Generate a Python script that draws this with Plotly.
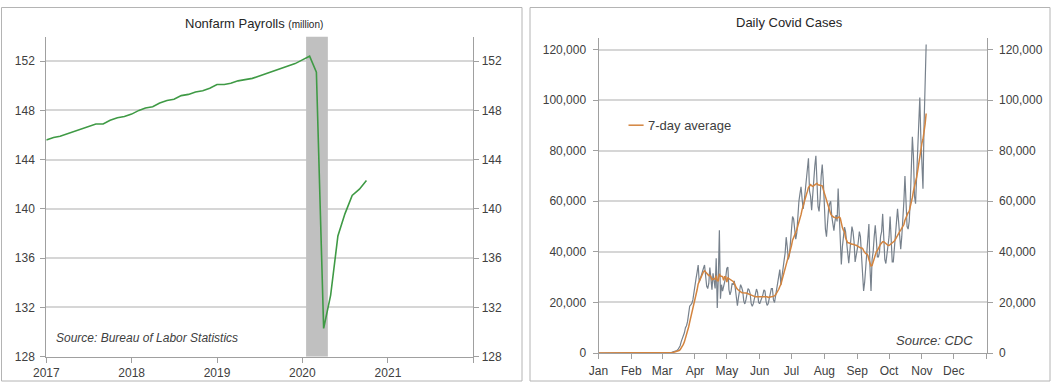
import pandas as pd
import plotly.graph_objects as go

W, H = 1052, 386

# ---------------- Data ----------------
# Nonfarm payrolls, millions, monthly Jan 2017 - Oct 2020
payrolls = [
    145.6, 145.8, 145.9, 146.1, 146.3, 146.5, 146.7, 146.9, 146.9, 147.2, 147.4, 147.5,
    147.7, 148.0, 148.2, 148.3, 148.6, 148.8, 148.9, 149.2, 149.3, 149.5, 149.6, 149.8,
    150.1, 150.1, 150.2, 150.4, 150.5, 150.6, 150.8, 151.0, 151.2, 151.4, 151.6, 151.8,
    152.1, 152.4, 151.1, 130.3, 133.0, 137.8, 139.6, 141.1, 141.6, 142.3,
]
payroll_start = "2017-01-01"
recession = ("2020-01-17", "2020-04-19")
payroll_ticks = ["2017", "2018", "2019", "2020", "2021", ""]

# Daily covid cases (thousands), Jan 1 - Nov 5 2020 (rows Mon-Sun after first partial week)
cases_k = [
    0, 0, 0, 0, 0,
    0, 0, 0, 0, 0, 0, 0,
    0, 0, 0, 0, 0, 0, 0,
    0, 0, 0, 0, 0, 0, 0,
    0, 0, 0, 0, 0, 0, 0,
    0, 0, 0, 0, 0, 0, 0,
    0, 0, 0, 0, 0, 0, 0,
    0, 0, 0, 0, 0, 0, 0,
    0, 0, 0, 0, 0, 0, 0,
    0.0, 0.0, 0.0, 0.1, 0.1, 0.1, 0.1,
    0.2, 0.3, 0.4, 0.5, 0.6, 0.8, 1.0,
    1.4, 2.0, 2.9, 4.5, 5.5, 6.6, 8.0,
    10.0, 10.8, 12.5, 16.5, 18.5, 19.0, 19.6,
    21.0, 24.5, 26.5, 29.5, 32.0, 34.8, 28.0,
    29.5, 31.5, 33.0, 33.5, 34.8, 30.5, 26.5,
    25.5, 27.5, 33.8, 30.5, 25.0, 31.5, 27.5,
    25.5, 37.5, 17.8, 30.0, 48.5, 21.5, 27.0,
    24.5, 26.0, 28.5, 30.0, 33.5, 34.0, 25.0,
    23.0, 24.5, 27.5, 27.0, 28.5, 25.5, 21.0,
    18.7, 22.0, 24.0, 27.0, 26.0, 24.5, 20.5,
    19.4, 21.0, 23.0, 25.5, 25.0, 23.5, 19.5,
    18.5, 19.5, 21.5, 24.0, 25.3, 24.0, 20.0,
    19.5, 20.5, 21.5, 23.0, 25.0, 24.5, 20.5,
    18.8, 19.5, 21.5, 24.0, 25.5, 25.5, 21.0,
    20.0, 22.5, 26.5, 28.0, 31.5, 33.0, 27.0,
    31.0, 34.0, 36.5, 39.5, 45.8, 42.0, 37.0,
    38.5, 43.5, 50.6, 54.0, 53.0, 47.0, 45.0,
    47.5, 55.0, 60.0, 63.0, 65.7, 61.0, 57.0,
    60.0, 65.0, 68.0, 72.0, 77.0, 64.0, 62.0,
    56.5, 63.0, 70.0, 74.0, 78.0, 68.0, 58.0,
    56.0, 61.0, 70.0, 74.5, 68.0, 56.0, 49.0,
    46.0, 53.0, 57.0, 59.0, 60.0, 54.0, 50.0,
    48.4, 52.0, 54.5, 52.0, 65.0, 55.0, 43.0,
    35.0, 42.0, 47.0, 49.8, 48.0, 44.0, 38.0,
    35.5, 40.0, 45.0, 50.0, 48.0, 44.0, 36.0,
    38.0, 41.0, 44.0, 48.0, 46.0, 40.0, 34.0,
    24.5, 28.0, 33.0, 40.0, 45.0, 51.0, 34.0,
    24.5, 37.0, 40.0, 46.0, 50.5, 45.0, 38.0,
    38.0, 40.0, 46.0, 48.0, 55.0, 46.0, 37.0,
    35.4, 40.0, 44.0, 46.0, 54.0, 46.0, 36.0,
    36.0, 42.0, 48.0, 52.0, 57.0, 52.0, 44.0,
    41.0, 46.0, 52.0, 60.0, 70.0, 58.0, 50.0,
    49.0, 52.0, 60.0, 72.0, 85.5, 78.0, 62.0,
    59.0, 68.0, 78.0, 90.0, 101.0, 85.0, 72.0,
    65.0, 90.0, 105.0, 122.0,
]

avg7_k = [
    0, 0, 0, 0, 0,
    0, 0, 0, 0, 0, 0, 0,
    0, 0, 0, 0, 0, 0, 0,
    0, 0, 0, 0, 0, 0, 0,
    0, 0, 0, 0, 0, 0, 0,
    0, 0, 0, 0, 0, 0, 0,
    0, 0, 0, 0, 0, 0, 0,
    0, 0, 0, 0, 0, 0, 0,
    0, 0, 0, 0, 0, 0, 0,
    0.0, 0.0, 0.0, 0.0, 0.1, 0.1, 0.1,
    0.1, 0.2, 0.2, 0.3, 0.4, 0.5, 0.6,
    0.8, 1.0, 1.3, 1.9, 2.6, 3.4, 4.4,
    5.7, 7.0, 8.4, 10.3, 12.2, 13.9, 15.4,
    17.0, 19.0, 21.0, 22.9, 25.0, 27.3, 28.4,
    29.6, 30.6, 31.5, 32.1, 32.5, 32.0, 31.8,
    31.2, 30.6, 30.7, 30.2, 29.0, 29.2, 29.4,
    29.2, 30.6, 28.6, 28.6, 31.3, 30.3, 30.3,
    30.2, 28.7, 30.2, 30.2, 28.0, 29.7, 29.4,
    29.2, 28.9, 28.8, 28.3, 27.6, 26.4, 25.8,
    25.2, 24.8, 24.3, 24.3, 23.9, 23.8, 23.8,
    23.9, 23.7, 23.6, 23.4, 23.3, 23.1, 22.9,
    22.8, 22.6, 22.4, 22.2, 22.2, 22.2, 22.2,
    22.3, 22.4, 22.4, 22.3, 22.3, 22.3, 22.4,
    22.2, 22.0, 22.0, 22.1, 22.2, 22.3, 22.4,
    22.6, 23.0, 23.7, 24.3, 25.2, 26.3, 27.1,
    28.7, 30.4, 31.8, 33.4, 35.4, 36.7, 38.1,
    39.2, 40.6, 42.5, 44.6, 45.6, 46.3, 47.4,
    48.7, 50.3, 51.6, 52.9, 54.7, 56.7, 58.4,
    60.0, 61.4, 62.6, 63.9, 65.5, 65.9, 66.6,
    66.2, 65.9, 66.2, 66.5, 66.6, 67.1, 66.5,
    66.4, 66.1, 66.1, 66.1, 64.6, 63.3, 62.0,
    60.6, 59.1, 57.5, 55.9, 55.0, 54.3, 53.9,
    53.7, 53.6, 53.5, 53.3, 53.6, 53.8, 53.3,
    51.0, 49.6, 48.5, 47.9, 45.6, 44.4, 43.6,
    43.6, 43.3, 43.0, 43.0, 43.0, 43.0, 42.7,
    42.6, 42.3, 42.0, 41.8, 41.6, 41.5, 41.4,
    40.5, 39.8, 39.3, 39.2, 38.6, 37.0, 35.2,
    34.4, 34.6, 35.8, 37.4, 39.0, 40.0, 40.5,
    41.5, 42.2, 43.0, 43.5, 44.0, 44.0, 43.6,
    43.0, 42.7, 42.6, 42.5, 42.8, 43.2, 43.5,
    43.8, 44.3, 44.9, 45.8, 46.5, 47.2, 48.0,
    48.6, 49.2, 49.8, 50.8, 52.5, 53.6, 54.5,
    55.5, 56.0, 57.5, 59.3, 61.5, 64.0, 65.5,
    67.0, 69.5, 72.0, 75.0, 78.5, 81.0, 83.0,
    84.5, 87.0, 90.5, 94.7,
]
covid_start = "2020-01-01"
months = ["Jan", "Feb", "Mar", "Apr", "May", "Jun", "Jul", "Aug", "Sep", "Oct", "Nov", "Dec", ""]

cases = [v * 1000 for v in cases_k]
avg7 = [v * 1000 for v in avg7_k]

# ---------------- Figure ----------------
FONT = "Liberation Sans, Arial, sans-serif"
TXT = "#404040"
GRID = "#D6D6D6"
AXC = "#A0A0A0"


def px(x):
    return x / W


def py(y):
    return 1 - y / H


fig = go.Figure()

pay_dates = pd.date_range(payroll_start, periods=len(payrolls), freq="MS")
fig.add_trace(go.Scatter(x=pay_dates, y=payrolls, mode="lines",
                         line=dict(color="#3F9A45", width=1.6),
                         xaxis="x", yaxis="y", showlegend=False, hoverinfo="skip"))
fig.add_trace(go.Scatter(x=pay_dates, y=payrolls, mode="lines", opacity=0,
                         xaxis="x", yaxis="y2", showlegend=False, hoverinfo="skip"))

cdates = pd.date_range(covid_start, periods=len(cases), freq="D")
adates = pd.date_range(covid_start, periods=len(avg7), freq="D")
fig.add_trace(go.Scatter(x=cdates, y=cases, mode="lines",
                         line=dict(color="#77818C", width=1.2),
                         xaxis="x2", yaxis="y3", showlegend=False, hoverinfo="skip"))
fig.add_trace(go.Scatter(x=adates, y=avg7, mode="lines",
                         line=dict(color="#D3843F", width=1.5),
                         xaxis="x2", yaxis="y3", showlegend=False, hoverinfo="skip"))
fig.add_trace(go.Scatter(x=adates, y=avg7, mode="lines", opacity=0,
                         xaxis="x2", yaxis="y4", showlegend=False, hoverinfo="skip"))

tickfont = dict(family=FONT, size=12, color=TXT)

# left chart axes
pay_tickvals = pd.date_range("2017-01-01", periods=len(payroll_ticks), freq="12MS")
xa1 = dict(domain=[px(46.3), px(473.3)], anchor="y", type="date", automargin=False,
           range=["2017-01-01", "2022-01-01"],
           tickvals=pay_tickvals, ticktext=payroll_ticks,
           ticks="outside", ticklen=5, tickcolor=AXC, showline=True, linecolor=AXC,
           linewidth=1, showgrid=False, zeroline=False, tickfont=tickfont)
ya_common = dict(range=[128, 154], tickvals=[128, 132, 136, 140, 144, 148, 152],
                 ticks="outside", ticklen=5, tickcolor=AXC, showline=True, linecolor=AXC,
                 linewidth=1, zeroline=False, tickfont=tickfont, automargin=False)
ya1 = dict(domain=[py(356.7), py(36.5)], anchor="x", showgrid=True, gridcolor=GRID,
           gridwidth=1.5, ticklabelstandoff=3, **ya_common)
ya2 = dict(overlaying="y", side="right", anchor="x", showgrid=False, **ya_common)

# right chart axes
cov_tickvals = pd.date_range("2020-01-01", periods=len(months), freq="MS")
xa2 = dict(domain=[px(598.5), px(986.6)], anchor="y3", type="date", automargin=False,
           range=["2020-01-01", "2021-01-01"],
           tickvals=cov_tickvals, ticktext=months,
           ticks="outside", ticklen=5, tickcolor=AXC, showline=True, linecolor=AXC,
           linewidth=1, showgrid=False, zeroline=False, tickfont=tickfont,
           ticklabelstandoff=2)
yb_common = dict(range=[0, 124400], tickvals=[0, 20000, 40000, 60000, 80000, 100000, 120000],
                 tickformat=",d", ticks="outside", ticklen=5, tickcolor=AXC, showline=True,
                 linecolor=AXC, linewidth=1, zeroline=False, tickfont=tickfont,
                 automargin=False)
ya3 = dict(domain=[py(353.0), py(38.4)], anchor="x2", showgrid=True, gridcolor=GRID,
           gridwidth=1.5, ticklabelstandoff=4, **yb_common)
ya4 = dict(overlaying="y3", side="right", anchor="x2", showgrid=False,
           ticklabelstandoff=4, **yb_common)

shapes = [
    # panel frames
    dict(type="rect", xref="paper", yref="paper", x0=px(1.5), x1=px(522), y0=py(381), y1=py(7.5),
         line=dict(color="#B4B4B4", width=1), fillcolor="rgba(0,0,0,0)", layer="below"),
    dict(type="rect", xref="paper", yref="paper", x0=px(530), x1=px(1050), y0=py(381), y1=py(7.5),
         line=dict(color="#B4B4B4", width=1), fillcolor="rgba(0,0,0,0)", layer="below"),
    # recession shading
    dict(type="rect", xref="x", yref="y", x0=recession[0], x1=recession[1], y0=128, y1=154,
         fillcolor="#C0C0C0", line=dict(width=0), layer="between"),
    # legend line
    dict(type="line", xref="paper", yref="paper", x0=px(628.5), x1=px(643.6),
         y0=py(125.2), y1=py(125.2), line=dict(color="#D3843F", width=1.5)),
]

annotations = [
    dict(text="Nonfarm Payrolls <span style='font-size:10px'>(million)</span>",
         x=px(253.6), y=py(23.7), xref="paper", yref="paper", showarrow=False,
         xanchor="center", yanchor="middle", font=dict(family=FONT, size=13, color="#262626")),
    dict(text="Daily Covid Cases", x=px(789.9), y=py(22.7), xref="paper", yref="paper",
         showarrow=False, xanchor="center", yanchor="middle",
         font=dict(family=FONT, size=13, color="#262626")),
    dict(text="<i>Source: Bureau of Labor Statistics</i>", x=px(54), y=py(338),
         xref="paper", yref="paper", showarrow=False, xanchor="left", yanchor="middle",
         font=dict(family=FONT, size=12, color=TXT)),
    dict(text="<i>Source: CDC</i>", x=px(975), y=py(340.7),
         xref="paper", yref="paper", showarrow=False, xanchor="right", yanchor="middle",
         font=dict(family=FONT, size=13, color=TXT)),
    dict(text="7-day average", x=px(646.2), y=py(125.2),
         xref="paper", yref="paper", showarrow=False, xanchor="left", yanchor="middle",
         font=dict(family=FONT, size=13, color=TXT)),
]

fig.update_layout(
    width=W, height=H, autosize=False,
    margin=dict(l=0, r=0, t=0, b=0, autoexpand=False),
    paper_bgcolor="white", plot_bgcolor="rgba(0,0,0,0)",
    xaxis=xa1, yaxis=ya1, yaxis2=ya2,
    xaxis2=xa2, yaxis3=ya3, yaxis4=ya4,
    shapes=shapes, annotations=annotations,
    showlegend=False,
)

fig.write_html(
    "out.html",
    config={"displayModeBar": False},
    post_script="document.body.style.margin='0';document.body.style.overflow='hidden';",
)
